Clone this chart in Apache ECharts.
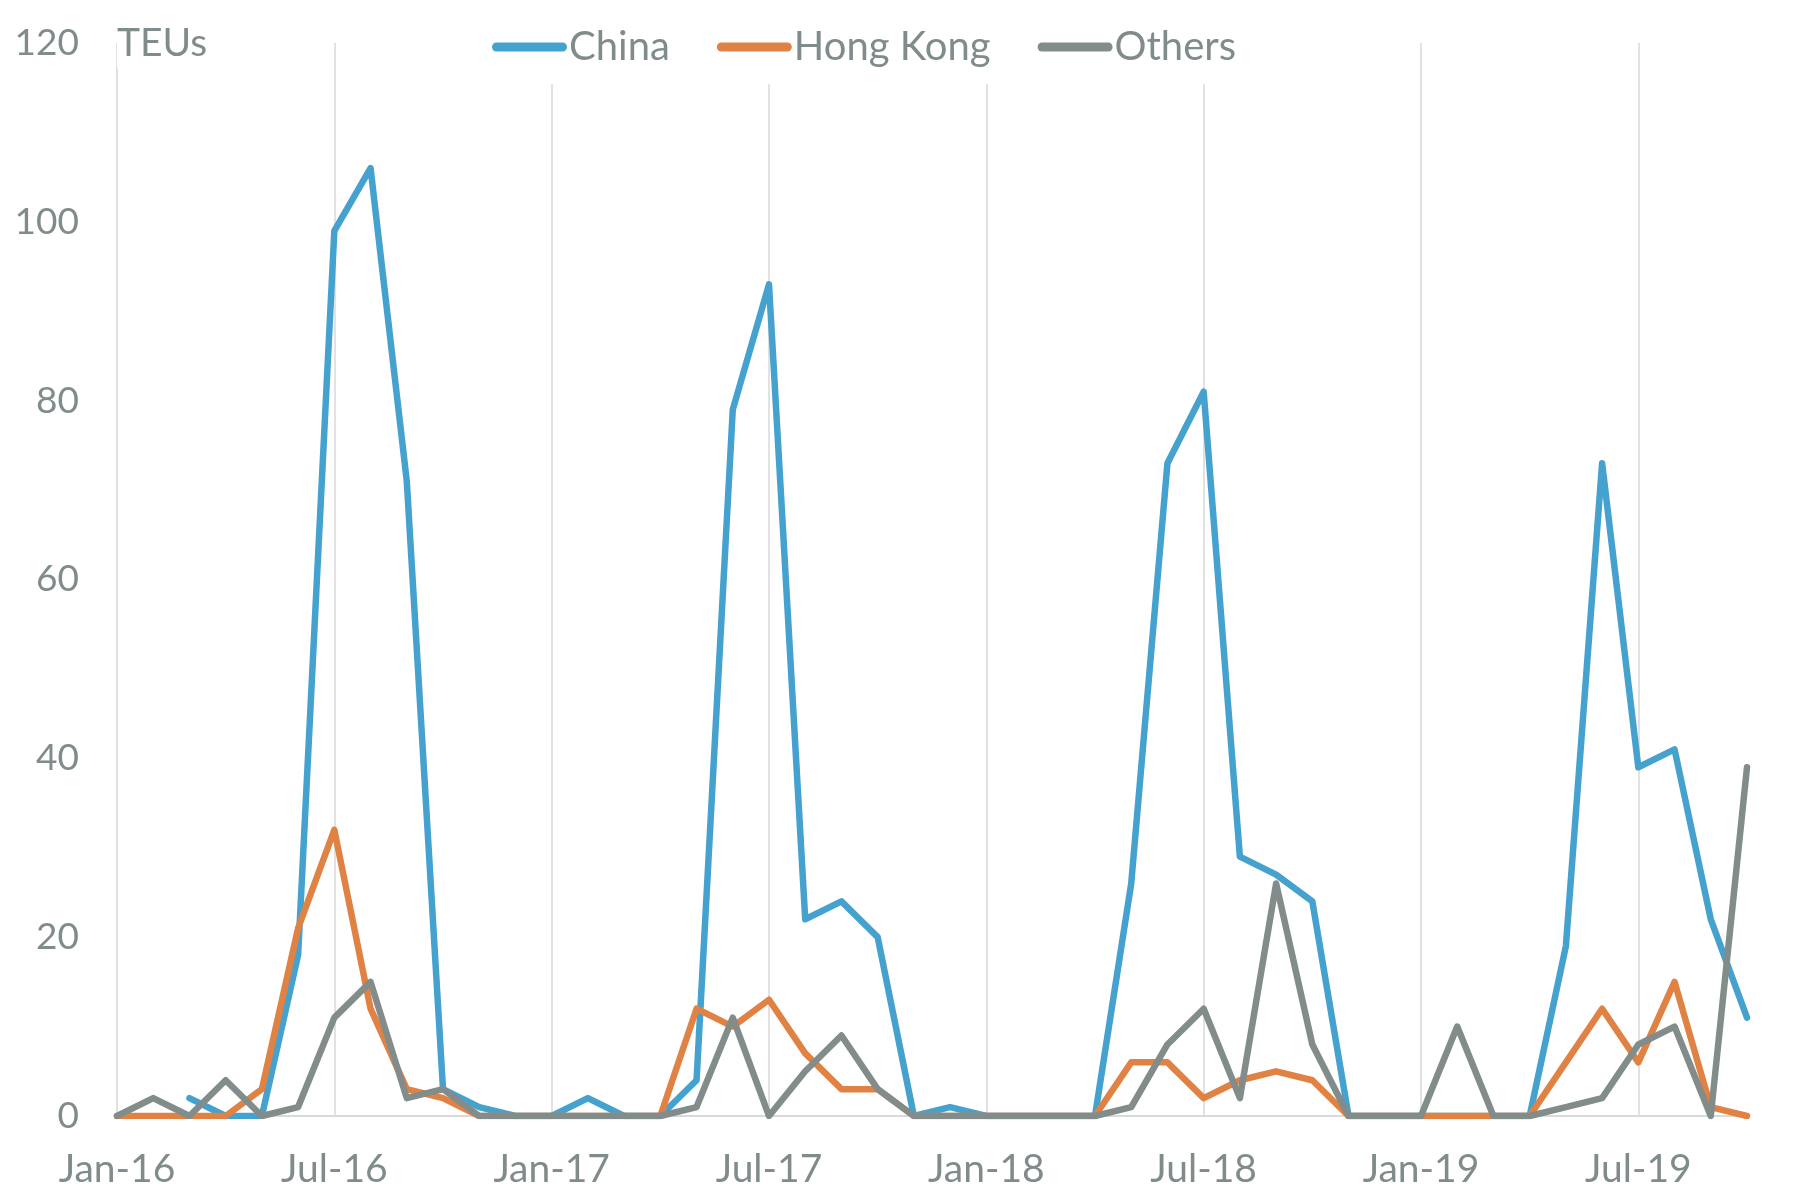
<!DOCTYPE html>
<html>
<head>
<meta charset="utf-8">
<script src="https://cdn.jsdelivr.net/npm/echarts@6/dist/echarts.min.js"></script>
<style>
html,body{margin:0;padding:0;background:#fff;}
#chart{width:1794px;height:1198px;}
</style>
</head>
<body>
<div id="chart"></div>
<script>
const months = ['Jan','Feb','Mar','Apr','May','Jun','Jul','Aug','Sep','Oct','Nov','Dec'];
const years = ['16','17','18','19'];
const categories = [];
for (const y of years) for (const m of months) categories.push(m + '-' + y);
categories.length = 46; // Jan-16 .. Oct-19

const china = [null,null,2,0,0,18,99,106,71,3,1,0,
               0,2,0,0,4,79,93,22,24,20,0,1,
               0,0,0,0,26,73,81,29,27,24,0,0,
               0,0,0,0,19,73,39,41,22,11];
const hongKong = [0,0,0,0,3,21,32,12,3,2,0,0,
                  0,0,0,0,12,10,13,7,3,3,0,0,
                  0,0,0,0,6,6,2,4,5,4,0,0,
                  0,0,0,0,6,12,6,15,1,0];
const others = [0,2,0,4,0,1,11,15,2,3,0,0,
                0,0,0,0,1,11,0,5,9,3,0,0,
                0,0,0,0,1,8,12,2,26,8,0,0,
                0,10,0,0,1,2,8,10,0,39];
const yTicks = [0,20,40,60,80,100,120];

const TEXT = '#808b8b';
const FONT = 'Lato';
const pill = 'path://M4.5,0 L70.5,0 A4.5,4.5 0 0 1 70.5,9 L4.5,9 A4.5,4.5 0 0 1 4.5,0 Z';

const chart = echarts.init(document.getElementById('chart'), null, {renderer:'canvas'});
const mk = (name, data, color) => ({
  name, type:'line', data, showSymbol:false, symbol:'none', connectNulls:false,
  lineStyle:{width:6.5, color, cap:'round', join:'round'},
  itemStyle:{color},
  emphasis:{disabled:true}, animation:false
});
chart.setOption({
  animation:false,
  backgroundColor:'#fff',
  textStyle:{fontFamily:FONT},
  grid:{left:117, right:47, top:43, bottom:82, containLabel:false},
  legend:{
    left:482, top:10, itemWidth:75, itemHeight:9, itemGap:47,
    padding:[17,10,17,10], backgroundColor:'#fff',
    icon:pill,
    textStyle:{color:TEXT, fontSize:40, fontFamily:FONT, padding:[0,0,0,-3]},
    data:['China','Hong Kong','Others']
  },
  xAxis:{
    type:'category', data:categories, boundaryGap:false,
    axisLine:{show:true, lineStyle:{color:'#d9d9d9', width:2}},
    axisTick:{show:false},
    axisLabel:{color:TEXT, fontSize:39, fontFamily:FONT, margin:34,
      interval:(i)=> i % 6 === 0},
    splitLine:{show:true, interval:(i)=> i % 6 === 0, lineStyle:{color:'#d9d9d9', width:1.5}}
  },
  yAxis:{
    type:'value', min:yTicks[0], max:yTicks[yTicks.length-1], interval:20,
    name:'TEUs', nameLocation:'end', nameGap:0,
    nameTextStyle:{color:TEXT, fontSize:39, fontFamily:FONT, align:'left', verticalAlign:'middle',
      backgroundColor:'#fff', padding:[4,6,6,0]},
    axisLine:{show:false}, axisTick:{show:false},
    axisLabel:{color:TEXT, fontSize:37, fontFamily:FONT, margin:38},
    splitLine:{show:false}
  },
  series:[
    mk('China', china, '#45a2cf'),
    mk('Hong Kong', hongKong, '#e08243'),
    mk('Others', others, '#818c8b')
  ]
});
</script>
</body>
</html>
